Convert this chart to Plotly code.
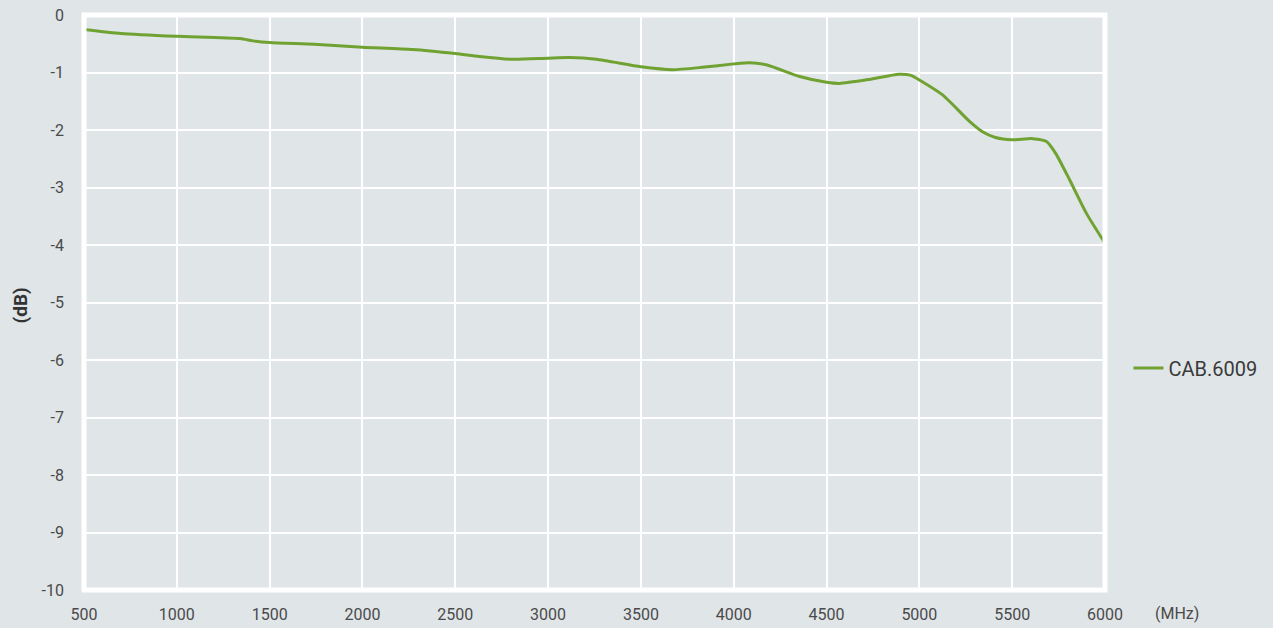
import plotly.graph_objects as go

freq_mhz = [500, 700, 1000, 1340, 1410, 1500, 1740, 2000, 2270, 2500, 2630, 2810, 3000,
            3115, 3260, 3500, 3670, 3830, 4000, 4085, 4180, 4355, 4500, 4570, 4730, 4890,
            4955, 5000, 5125, 5270, 5340, 5410, 5500, 5610, 5685, 5735, 5810, 5900, 6000]
loss_db = [-0.25, -0.32, -0.37, -0.41, -0.45, -0.48, -0.51, -0.56, -0.60, -0.67, -0.72, -0.77, -0.75,
           -0.74, -0.77, -0.90, -0.95, -0.91, -0.85, -0.83, -0.87, -1.07, -1.17, -1.19, -1.12, -1.03,
           -1.05, -1.13, -1.39, -1.85, -2.03, -2.13, -2.17, -2.15, -2.20, -2.41, -2.87, -3.45, -3.97]
x_ticks = [500, 1000, 1500, 2000, 2500, 3000, 3500, 4000, 4500, 5000, 5500, 6000]
y_ticks = [0, -1, -2, -3, -4, -5, -6, -7, -8, -9, -10]
series_name = "CAB.6009"

BG = "#e0e5e8"
TXT = "#4a4a4a"
GREEN = "#70a232"

fig = go.Figure()
fig.add_trace(go.Scatter(
    x=freq_mhz, y=loss_db, mode="lines", name=series_name,
    line=dict(color=GREEN, width=3, shape="spline", smoothing=0.6),
))

fig.update_layout(
    width=1273, height=628,
    margin=dict(l=84, r=167, t=15, b=38),
    paper_bgcolor=BG, plot_bgcolor=BG,
    font=dict(family="Roboto", size=16, color=TXT),
    showlegend=True,
    legend=dict(x=1.022, xanchor="left", y=0.386, yanchor="middle",
                font=dict(size=20, color="#3a3a3a"), bgcolor="rgba(0,0,0,0)"),
    xaxis=dict(range=[500, 6000], tickvals=x_ticks, ticktext=[str(v) for v in x_ticks],
               showgrid=True, gridcolor="white", gridwidth=1.5, zeroline=False,
               showline=False, ticks="", ticklabelstandoff=13, automargin=False),
    yaxis=dict(range=[-10, 0], tickvals=y_ticks, ticktext=[str(v) for v in y_ticks],
               showgrid=True, gridcolor="white", gridwidth=1.5, zeroline=False,
               showline=False, ticks="", ticklabelstandoff=19, automargin=False),
    shapes=[dict(type="rect", xref="paper", yref="paper", x0=0, x1=1, y0=0, y1=1,
                 line=dict(color="white", width=5), layer="above")],
    annotations=[
        dict(text="<b>(dB)</b>", xref="paper", yref="paper", x=0, y=0.495, xshift=-64,
             textangle=-90, showarrow=False, font=dict(size=19, color="#333333"),
             xanchor="center", yanchor="middle"),
        dict(text="(MHz)", xref="paper", yref="paper", x=1, y=0, xshift=72, yshift=-23,
             showarrow=False, font=dict(size=16, color=TXT), xanchor="center", yanchor="middle"),
    ],
)

fig.write_html("out.html", config={"displayModeBar": False},
               post_script="document.body.style.margin='0';document.body.style.background='#e0e5e8';")
